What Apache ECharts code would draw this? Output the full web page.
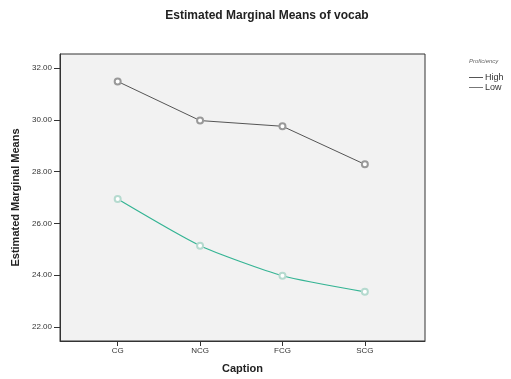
<!DOCTYPE html>
<html>
<head>
<meta charset="utf-8">
<script src="https://cdn.jsdelivr.net/npm/echarts@6/dist/echarts.min.js"></script>
<style>
  html, body { margin: 0; padding: 0; background: #fff; }
  #chart { width: 511px; height: 379px; }
</style>
</head>
<body>
<div id="chart"></div>
<script>
// groups on the x axis
const captions = ['CG', 'NCG', 'FCG', 'SCG'];
// estimated marginal means per proficiency level
const highMeans = [31.48, 29.97, 29.75, 28.28];
const lowMeans = [26.94, 25.14, 23.98, 23.36];
const yTicks = [22, 24, 26, 28, 30, 32];
const xTicks = [0, 1, 2, 3];

const font = 'Liberation Sans, Arial, sans-serif';
const chart = echarts.init(document.getElementById('chart'));

chart.setOption({
  animation: false,
  backgroundColor: '#fff',
  title: {
    text: 'Estimated Marginal Means of vocab',
    left: 262,
    top: 5,
    textAlign: 'center',
    textStyle: { fontFamily: font, fontSize: 12, fontWeight: 'bold', color: '#222' }
  },
  graphic: [
    {
      type: 'text',
      left: 469,
      top: 58,
      style: { text: 'Proficiency', font: 'italic 6px ' + font, fill: '#666' }
    }
  ],
  legend: {
    orient: 'vertical',
    left: 464,
    top: 68,
    itemGap: 1,
    itemWidth: 14,
    itemHeight: 1,
    icon: 'rect',
    textStyle: { fontFamily: font, fontSize: 9, color: '#333', padding: [0, 0, 0, -3] },
    data: [
      { name: 'High', itemStyle: { color: '#555' } },
      { name: 'Low', itemStyle: { color: '#777' } }
    ]
  },
  grid: {
    left: 60,
    right: 86,
    top: 54,
    bottom: 37,
    show: true,
    backgroundColor: '#f2f2f2',
    borderColor: '#333',
    borderWidth: 1
  },
  xAxis: {
    type: 'value',
    min: -0.7,
    max: 3.73,
    name: 'Caption',
    nameLocation: 'middle',
    nameGap: 22,
    nameTextStyle: { fontFamily: font, fontSize: 11, fontWeight: 'bold', color: '#222' },
    axisLine: { show: true, onZero: false, lineStyle: { color: '#333' } },
    axisTick: { show: true, length: 5, customValues: xTicks, lineStyle: { color: '#333' } },
    splitLine: { show: false },
    axisLabel: {
      customValues: xTicks,
      fontFamily: font,
      fontSize: 8,
      color: '#333',
      margin: 6,
      formatter: v => captions[Math.round(v)]
    }
  },
  yAxis: {
    type: 'value',
    min: 21.46,
    max: 32.54,
    name: 'Estimated Marginal Means',
    nameLocation: 'middle',
    nameGap: 38,
    nameTextStyle: { fontFamily: font, fontSize: 11, fontWeight: 'bold', color: '#222' },
    axisLine: { show: true, onZero: false, lineStyle: { color: '#333' } },
    axisTick: { show: true, length: 6, customValues: yTicks, lineStyle: { color: '#333' } },
    splitLine: { show: false },
    axisLabel: {
      customValues: yTicks,
      fontFamily: font,
      fontSize: 8,
      color: '#333',
      margin: 8,
      formatter: v => v.toFixed(2)
    }
  },
  series: [
    {
      name: 'High',
      type: 'line',
      data: highMeans.map((v, i) => [xTicks[i], v]),
      symbol: 'emptyCircle',
      symbolSize: 6,
      lineStyle: { color: '#555', width: 1 },
      itemStyle: { color: '#999', borderWidth: 0.7 }
    },
    {
      name: 'Low',
      type: 'line',
      data: lowMeans.map((v, i) => [xTicks[i], v]),
      smooth: 0.2,
      symbol: 'emptyCircle',
      symbolSize: 6,
      lineStyle: { color: '#35b494', width: 1.2 },
      itemStyle: { color: '#b5dacf', borderWidth: 0.7 }
    }
  ]
});
</script>
</body>
</html>
